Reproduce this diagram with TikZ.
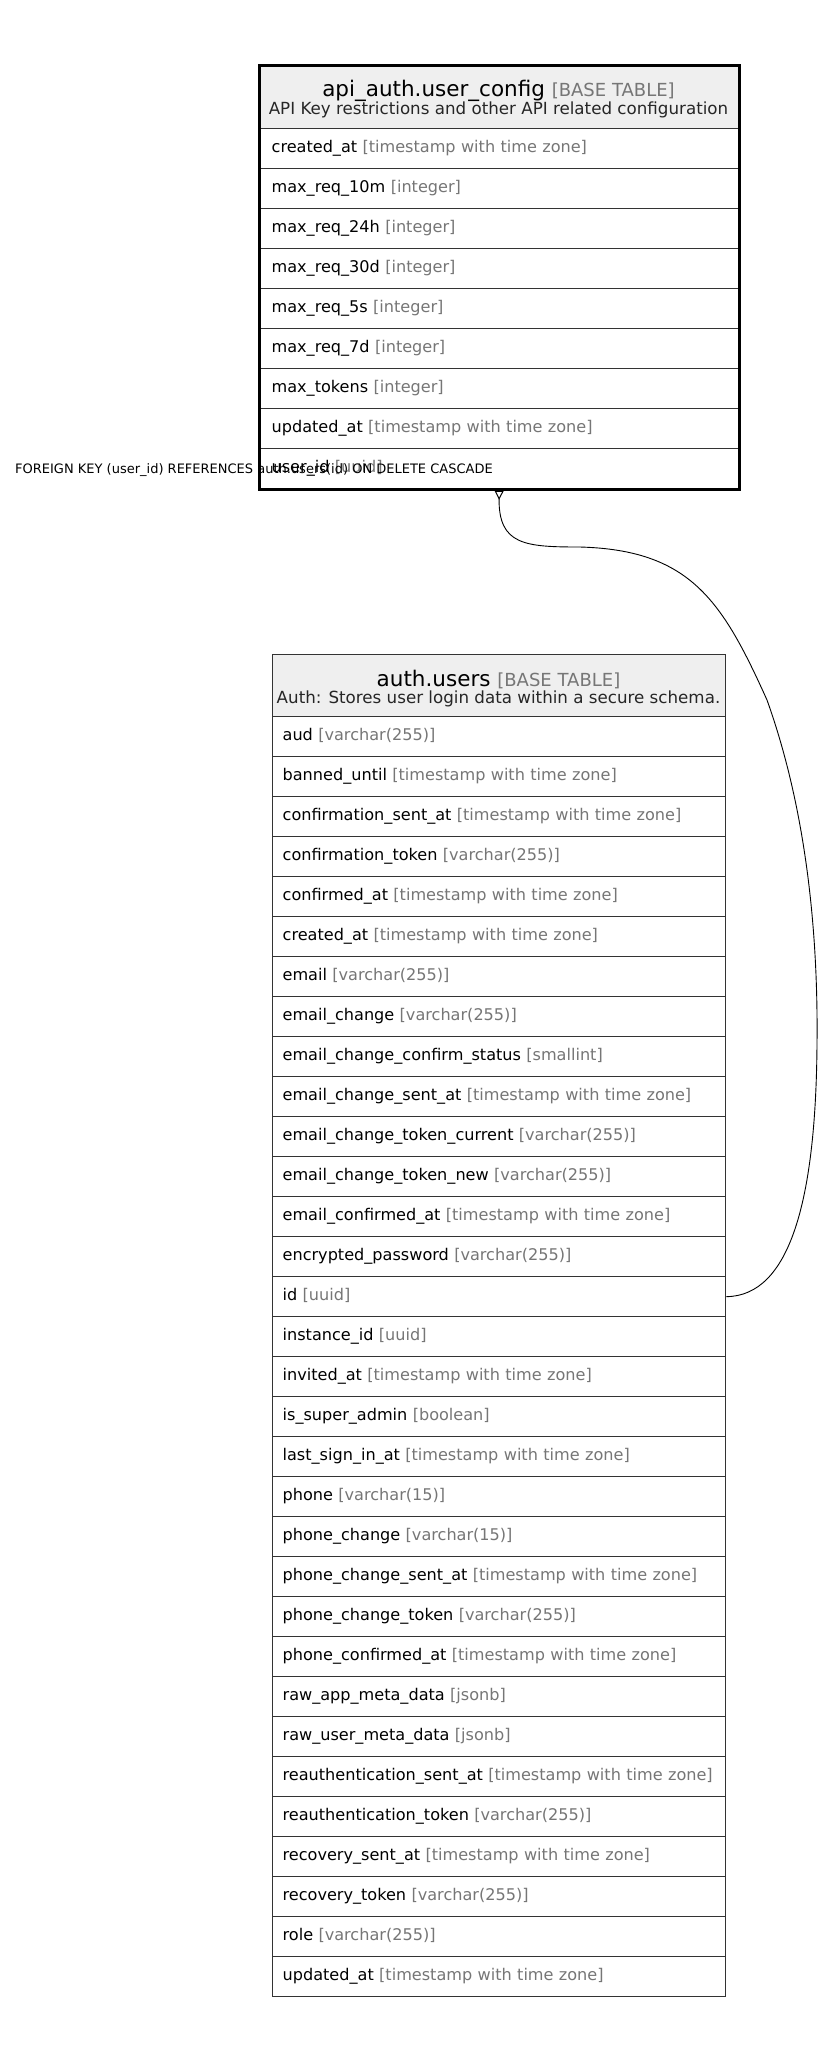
\documentclass[tikz,border=0pt]{standalone}
\usepackage{fontspec}
\setmainfont{DejaVu Sans}
\usetikzlibrary{arrows.meta}
\definecolor{typegray}{RGB}{118,118,118}
\definecolor{hdrfill}{RGB}{239,239,239}
\definecolor{linegray}{RGB}{51,51,51}
\newcommand{\basetag}{\textcolor{typegray}{\fontsize{18}{20}\selectfont[BASE TABLE]}}
\tikzset{
  rowbox/.style={draw=linegray, line width=1.3pt, rectangle, anchor=north west,
    minimum height=40pt, inner ysep=0pt, align=left,
    text height=12pt, text depth=4pt,
    font=\fontsize{16.1}{18}\selectfont},
  toprow/.style={rowbox, text width=455pt, inner xsep=12pt},
  botrow/.style={rowbox, text width=433pt, inner xsep=10pt},
  hdrbox/.style={draw=linegray, line width=1.3pt, fill=hdrfill, rectangle, anchor=north west, inner sep=0pt},
  titletext/.style={anchor=base, inner sep=0pt, font=\fontsize{21.5}{24}\selectfont},
  subtext/.style={anchor=base, inner sep=0pt, text=black!85, font=\fontsize{16.7}{19}\selectfont},
  fklabel/.style={anchor=base west, inner sep=0pt, font=\fontsize{13}{15}\selectfont},
  conn/.style={draw=black, line width=0.9pt}
}
\begin{document}
\begin{tikzpicture}[x=1pt,y=-1pt]
\useasboundingbox[fill=white] (0,0) rectangle (823,2059);
% ---------- api_auth.user_config ----------
\node[hdrbox, minimum width=479pt, minimum height=63pt] (uchdr) at (259,65) {};
\node[titletext] (uctitle) at (498.5,96) {api\_auth.user\_config \basetag};
\node[subtext] (ucsub) at (498.5,114) {API Key restrictions and other API related configuration};
\foreach [count=\i from 0] \n/\t in {
  created\_at/timestamp with time zone,
  max\_req\_10m/integer,
  max\_req\_24h/integer,
  max\_req\_30d/integer,
  max\_req\_5s/integer,
  max\_req\_7d/integer,
  max\_tokens/integer,
  updated\_at/timestamp with time zone,
  user\_id/uuid}
{
  \node[toprow] (uc\i) at (259,128+40*\i) {\n\ \textcolor{typegray}{[\t]}};
}
\draw[black, line width=3pt] (uchdr.north west) rectangle (uc8.south east);
% ---------- auth.users ----------
\node[hdrbox, minimum width=453pt, minimum height=62pt] (uhdr) at (272,654) {};
\node[titletext] (utitle) at (498.5,686) {auth.users \basetag};
\node[subtext] (usub) at (498.5,703) {Auth: Stores user login data within a secure schema.};
\foreach [count=\i from 0] \n/\t in {
  aud/varchar(255),
  banned\_until/timestamp with time zone,
  confirmation\_sent\_at/timestamp with time zone,
  confirmation\_token/varchar(255),
  confirmed\_at/timestamp with time zone,
  created\_at/timestamp with time zone,
  email/varchar(255),
  email\_change/varchar(255),
  email\_change\_confirm\_status/smallint,
  email\_change\_sent\_at/timestamp with time zone,
  email\_change\_token\_current/varchar(255),
  email\_change\_token\_new/varchar(255),
  email\_confirmed\_at/timestamp with time zone,
  encrypted\_password/varchar(255),
  id/uuid,
  instance\_id/uuid,
  invited\_at/timestamp with time zone,
  is\_super\_admin/boolean,
  last\_sign\_in\_at/timestamp with time zone,
  phone/varchar(15),
  phone\_change/varchar(15),
  phone\_change\_sent\_at/timestamp with time zone,
  phone\_change\_token/varchar(255),
  phone\_confirmed\_at/timestamp with time zone,
  raw\_app\_meta\_data/jsonb,
  raw\_user\_meta\_data/jsonb,
  reauthentication\_sent\_at/timestamp with time zone,
  reauthentication\_token/varchar(255),
  recovery\_sent\_at/timestamp with time zone,
  recovery\_token/varchar(255),
  role/varchar(255),
  updated\_at/timestamp with time zone}
{
  \node[botrow] (u\i) at (272,716+40*\i) {\n\ \textcolor{typegray}{[\t]}};
}
% ---------- relation ----------
\node[fklabel] (fk) at (15,473) {FOREIGN KEY (user\_id) REFERENCES auth.users(id) ON DELETE CASCADE};
\draw[conn, {Triangle[open,reversed,length=9pt,width=9pt,line width=1pt]}-] ([yshift=-1.5pt]uc8.south)
  .. controls (498.5,545) and (525,547) .. (580,547)
  .. controls (690,550) and (722,600) .. (767,700)
  .. controls (810,820) and (818,950) .. (817,1043)
  .. controls (816,1200) and (790,1296) .. (u14.east);
\end{tikzpicture}
\end{document}
